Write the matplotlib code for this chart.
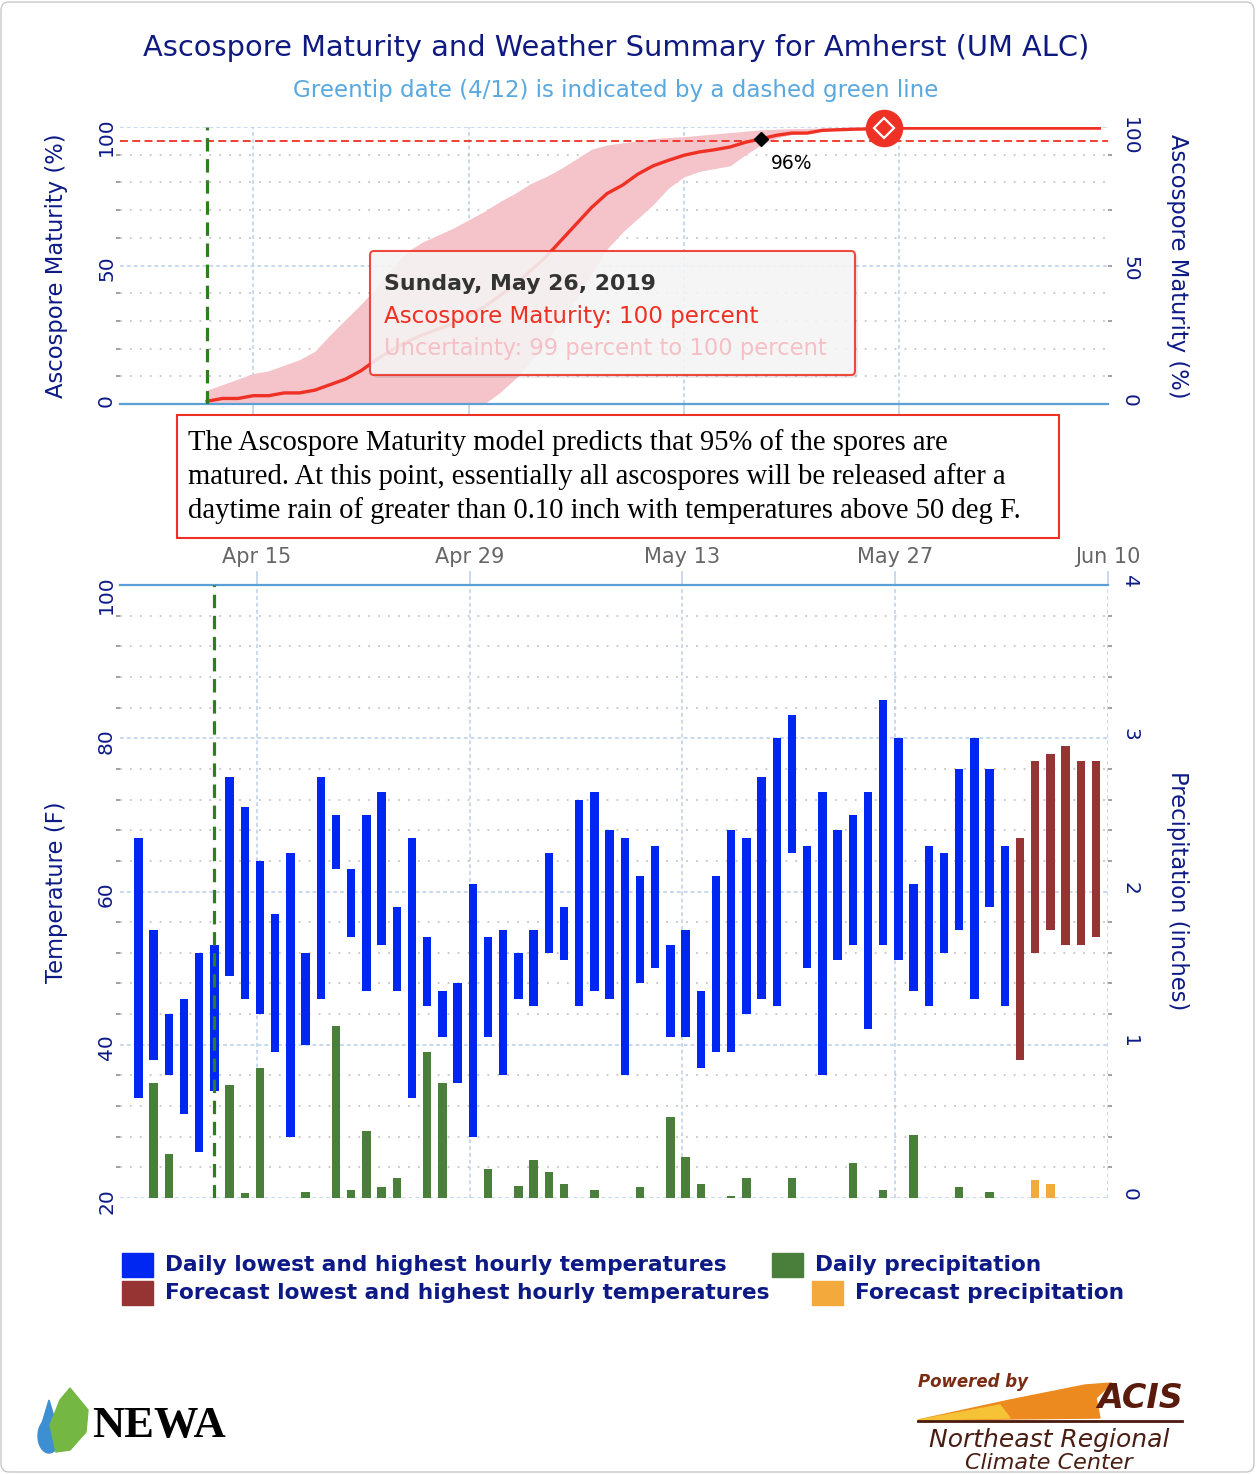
import numpy as np
import pandas as pd
import matplotlib
matplotlib.use("Agg")
import matplotlib.pyplot as plt
from matplotlib.ticker import MultipleLocator, NullFormatter
from matplotlib.transforms import blended_transform_factory, offset_copy
from matplotlib.patches import FancyBboxPatch, Rectangle, Polygon, Ellipse

W, H = 1256, 1474

# ascospore maturity model, daily from greentip (Apr 12) to Jun 9
mat_start = "2019-04-12"
maturity = [1, 2, 2, 3, 3, 4, 4, 5, 7, 9, 12, 16, 19.5, 22.5, 25, 27, 29, 32, 35,
            39, 43, 48, 53, 59, 65, 71, 76, 79, 83, 86, 88, 89.8, 91, 91.8, 92.8, 94.5,
            95.7, 97, 97.8, 97.8, 98.8, 99, 99.2, 99.3, 99.6, 99.6, 99.6, 99.6, 99.6,
            99.6, 99.6, 99.6, 99.6, 99.6, 99.6, 99.6, 99.6, 99.6, 99.6]
mat_upper = [5, 7, 9, 11, 12, 14, 16, 19, 25, 30.5, 36, 42, 49, 55, 58.5, 61, 63.5, 66.5, 69.5,
             73, 76, 79.5, 82, 85, 88.5, 92, 93.5, 94.3, 95, 95.8, 96.2, 96.5, 97, 97.5, 98,
             98.5, 99, 99.2, 99.4, 99.5, 99.6, 99.6, 99.6, 99.6, 99.6, 99.6, 99.6, 99.6,
             99.6, 99.6, 99.6, 99.6, 99.6, 99.6, 99.6, 99.6, 99.6, 99.6, 99.6]
mat_lower = [0, 0, 0, 0, 0, 0, 0, 0, 0, 0, 0, 0, 0, 0, 0, 0, 0, 0, 0,
             4, 9, 15, 22, 30, 38, 47, 56, 62, 67, 72, 78, 82, 84, 85, 86, 90,
             93.5, 96, 97.3, 97.8, 98.8, 99, 99.2, 99.3, 99.6, 99.6, 99.6, 99.6, 99.6,
             99.6, 99.6, 99.6, 99.6, 99.6, 99.6, 99.6, 99.6, 99.6, 99.6]
greentip = "2019-04-12"
threshold = 95
marker_95 = ("2019-05-18", 95.7, "96%")
hover_day = ("2019-05-26", 99.6)

# observed weather, daily Apr 7 - Jun 3
wx_start = "2019-04-07"
tmax = [67, 55, 44, 46, 52, 53, 75, 71, 64, 57, 65, 52, 75, 70, 63, 70, 73, 58, 67, 54,
        47, 48, 61, 54, 55, 52, 55, 65, 58, 72, 73, 68, 67, 62, 66, 53, 55, 47, 62, 68,
        67, 75, 80, 83, 66, 73, 68, 70, 73, 85, 80, 61, 66, 65, 76, 80, 76, 66]
tmin = [33, 38, 36, 31, 26, 34, 49, 46, 44, 39, 28, 40, 46, 63, 54, 47, 53, 47, 33, 45,
        41, 35, 28, 41, 36, 46, 45, 52, 51, 45, 47, 46, 36, 48, 50, 41, 41, 37, 39, 39,
        44, 46, 45, 65, 50, 36, 51, 53, 42, 53, 51, 47, 45, 52, 55, 46, 58, 45]
precip = [0, 0.75, 0.29, 0, 0, 0, 0.74, 0.03, 0.85, 0, 0, 0.04, 0, 1.12, 0.05, 0.44,
          0.07, 0.13, 0, 0.95, 0.75, 0, 0, 0.19, 0, 0.08, 0.25, 0.17, 0.09, 0, 0.05, 0,
          0, 0.07, 0, 0.53, 0.27, 0.09, 0, 0.01, 0.13, 0, 0, 0.13, 0, 0, 0, 0.23, 0,
          0.05, 0, 0.41, 0, 0, 0.07, 0, 0.04, 0]

# forecast, Jun 4 - Jun 9
fc_start = "2019-06-04"
fc_tmax = [67, 77, 78, 79, 77, 77]
fc_tmin = [38, 52, 55, 53, 53, 54]
fc_precip = [0, 0.12, 0.09, 0, 0, 0]

tick_dates = ["2019-04-15", "2019-04-29", "2019-05-13", "2019-05-27", "2019-06-10"]
tick_labels = ["Apr 15", "Apr 29", "May 13", "May 27", "Jun 10"]

navy = "#0d1a86"
red = "#ee3124"
gridc = "#b9cee9"
axisc = "#5b9fd6"

plt.rcParams["font.family"] = ["DejaVu Sans"]

fig = plt.figure(figsize=(W / 100, H / 100), dpi=100)


def box(l, t, r, b):
    return [l / W, 1 - b / H, (r - l) / W, (b - t) / H]


def fx(x):
    return x / W


def fy(y):
    return 1 - y / H


def base_style(ax, minor):
    for s in ax.spines.values():
        s.set_visible(False)
    ax.set_axisbelow(True)
    ax.yaxis.set_minor_locator(MultipleLocator(minor))
    ax.grid(True, which="major", color=gridc, lw=1.1, ls=(0, (2.5, 2)))
    ax.grid(True, which="minor", axis="y", color="#c6c6c6", lw=1.3, ls=(0, (1, 4.5)))
    ax.tick_params(axis="y", which="major", length=0, labelleft=False, labelright=False)
    ax.tick_params(axis="y", which="minor", length=3, width=1.3, color="#9a9a9a")


def ylabels(ax, values, side, size=14.5):
    tr = blended_transform_factory(ax.transAxes, ax.transData)
    if side == "left":
        tr = offset_copy(tr, fig=fig, x=-4, y=10, units="dots")
        for v in values:
            ax.text(0, v, f"{v:g}", transform=tr, rotation=90, ha="right", va="top",
                    color=navy, fontsize=size)
    else:
        tr = offset_copy(tr, fig=fig, x=12, y=10, units="dots")
        for v in values:
            ax.text(1, v, f"{v:g}", transform=tr, rotation=270, ha="left", va="top",
                    color=navy, fontsize=size)


# ---------------- top chart: ascospore maturity ----------------
mat_dates = pd.date_range(mat_start, periods=len(maturity))
ax1 = fig.add_axes(box(120, 127, 1108, 404))
ax1.set_xlim(pd.Timestamp("2019-04-06 08:00"), pd.Timestamp("2019-06-09 13:30"))
ax1.set_ylim(0, 100)
base_style(ax1, 10)
ax1.set_yticks([0, 50, 100])
ax1.set_xticks(pd.to_datetime(tick_dates[:4]))
ax1.xaxis.set_major_formatter(NullFormatter())
ax1.tick_params(axis="x", length=9, width=1.1, color=gridc)
ax1.spines["bottom"].set_visible(True)
ax1.spines["bottom"].set_color(axisc)
ax1.spines["bottom"].set_linewidth(1.6)

ax1.fill_between(mat_dates, mat_lower, mat_upper, color="#f5c3ca", lw=0, zorder=2)
ax1.plot(mat_dates, maturity, color=red, lw=2.4, zorder=3)
ax1.axhline(threshold, color=red, lw=1.3, ls=(0, (4.4, 2.4)), zorder=3)
ax1.axvline(pd.Timestamp(greentip), color="#2f7d1f", lw=2.3, ls=(0, (4.2, 2.4)), zorder=3)

md, mv, mtxt = marker_95
ax1.plot(pd.Timestamp(md), mv, marker="D", ms=7.5, color="black", zorder=5)
ax1.annotate(mtxt, xy=(pd.Timestamp(md), mv), xytext=(22, -18), textcoords="offset points",
             ha="center", va="center", fontsize=13.5, color="black")
hd, hv = hover_day
ax1.plot(pd.Timestamp(hd), hv, marker="o", ms=26, color=red, zorder=6, clip_on=False)
ax1.plot(pd.Timestamp(hd), hv, marker="D", ms=10, mfc=red, mec="white", mew=1.6,
         zorder=7, clip_on=False)

ax1r = ax1.twinx()
ax1r.set_ylim(0, 100)
for s in ax1r.spines.values():
    s.set_visible(False)
ax1r.yaxis.set_minor_locator(MultipleLocator(10))
ax1r.tick_params(axis="y", which="major", length=0, labelright=False)
ax1r.tick_params(axis="y", which="minor", length=3, width=1.3, color="#9a9a9a")
ylabels(ax1, [0, 50, 100], "left")
ylabels(ax1, [0, 50, 100], "right")

fig.text(fx(57), fy(266), "Ascospore Maturity (%)", rotation=90, ha="center", va="center",
         color=navy, fontsize=16.3)
fig.text(fx(1178), fy(266), "Ascospore Maturity (%)", rotation=270, ha="center", va="center",
         color=navy, fontsize=16.3)

# ---------------- bottom chart: temperature and precipitation ----------------
shift = pd.Timedelta(hours=5)
wx_dates = pd.date_range(wx_start, periods=len(tmax)) + shift
fc_dates = pd.date_range(fc_start, periods=len(fc_tmax)) + shift

axb = fig.add_axes(box(120, 585, 1108, 1198))
axb.set_xlim(pd.Timestamp("2019-04-06"), pd.Timestamp("2019-06-10"))
axb.set_ylim(20, 100)
base_style(axb, 4)
axb.set_yticks([20, 40, 60, 80, 100])
axb.set_xticks(pd.to_datetime(tick_dates))
axb.set_xticklabels(tick_labels)
axb.xaxis.tick_top()
axb.tick_params(axis="x", length=10, width=1.1, color=gridc, labelcolor="#666666",
                labelsize=15, pad=3)
axb.spines["top"].set_visible(True)
axb.spines["top"].set_color(axisc)
axb.spines["top"].set_linewidth(1.6)

bw = 0.55
axb.bar(wx_dates, np.array(tmax) - np.array(tmin), bottom=tmin, width=bw, color="#0026f2",
        zorder=2)
axb.bar(fc_dates, np.array(fc_tmax) - np.array(fc_tmin), bottom=fc_tmin, width=bw,
        color="#963333", zorder=2)
axb.axvline(pd.Timestamp(greentip) + shift, color="#2f7d1f", lw=2.3, ls=(0, (4.2, 2.4)),
            zorder=3)

axp = axb.twinx()
axp.set_ylim(0, 4)
for s in axp.spines.values():
    s.set_visible(False)
axp.yaxis.set_minor_locator(MultipleLocator(0.2))
axp.tick_params(axis="y", which="major", length=0, labelright=False)
axp.tick_params(axis="y", which="minor", length=3, width=1.3, color="#9a9a9a")
axp.bar(wx_dates, precip, width=bw, color="#4a7f3b", zorder=2)
axp.bar(fc_dates, fc_precip, width=bw, color="#f4a93d", zorder=2)

ylabels(axb, [20, 40, 60, 80, 100], "left")
ylabels(axp, [0, 1, 2, 3, 4], "right")
fig.text(fx(57), fy(892), "Temperature (F)", rotation=90, ha="center", va="center",
         color=navy, fontsize=16.3)
fig.text(fx(1178), fy(891), "Precipitation (inches)", rotation=270, ha="center",
         va="center", color=navy, fontsize=16.3)

# ---------------- titles ----------------
fig.text(fx(616), fy(48), "Ascospore Maturity and Weather Summary for Amherst (UM ALC)",
         ha="center", va="center", color="#0f1a80", fontsize=20.8)
fig.text(fx(616), fy(91), "Greentip date (4/12) is indicated by a dashed green line",
         ha="center", va="center", color="#5aa8e0", fontsize=16.6)

# ---------------- tooltip ----------------
fig.patches.append(FancyBboxPatch((fx(373), fy(378)), fx(485), 124 / H,
                                  boxstyle="round,pad=0,rounding_size=0.003",
                                  transform=fig.transFigure, fc="#000000", alpha=0.08,
                                  lw=0, zorder=5))
fig.patches.append(FancyBboxPatch((fx(370), fy(375)), fx(485), 124 / H,
                                  boxstyle="round,pad=0,rounding_size=0.003",
                                  transform=fig.transFigure, fc="#f7f7f7", alpha=0.88,
                                  ec=red, lw=1.5, zorder=6))
fig.text(fx(384), fy(284), "Sunday, May 26, 2019", ha="left", va="center", color="#333333",
         fontsize=15.8, fontweight="bold", zorder=7)
fig.text(fx(384), fy(316), "Ascospore Maturity: 100 percent", ha="left", va="center",
         color=red, fontsize=16.6, zorder=7)
fig.text(fx(384), fy(348), "Uncertainty: 99 percent to 100 percent", ha="left", va="center",
         color="#f6bfc6", fontsize=16.3, zorder=7)

# ---------------- message box ----------------
fig.patches.append(Rectangle((fx(177), fy(538)), fx(882), 123 / H, transform=fig.transFigure,
                             fc="white", ec=red, lw=1.5, zorder=5))
msg = ["The Ascospore Maturity model predicts that 95% of the spores are",
       "matured. At this point, essentially all ascospores will be released after a",
       "daytime rain of greater than 0.10 inch with temperatures above 50 deg F."]
for i, line in enumerate(msg):
    fig.text(fx(188), fy(443 + 34 * i), line, ha="left", va="center", color="black",
             fontsize=20.6, family="Liberation Serif", zorder=6)

# ---------------- legend ----------------
legend_items = [
    (122, 1265, "#0026f2", "Daily lowest and highest hourly temperatures"),
    (772, 1265, "#4a7f3b", "Daily precipitation"),
    (122, 1293, "#963333", "Forecast lowest and highest hourly temperatures"),
    (812, 1293, "#f4a93d", "Forecast precipitation"),
]
for x0, yc, col, lab in legend_items:
    fig.patches.append(Rectangle((fx(x0), fy(yc + 12)), 31 / W, 24 / H,
                                 transform=fig.transFigure, color=col))
    fig.text(fx(x0 + 43), fy(yc), lab, ha="left", va="center", color=navy, fontsize=15.6,
             fontweight="bold")

# ---------------- logos ----------------
fig.patches.append(Ellipse((fx(49), fy(1436)), 22 / W, 34 / H, transform=fig.transFigure,
                           color="#3d8fd1"))
fig.patches.append(Polygon([(fx(40), fy(1430)), (fx(49), fy(1400)), (fx(58), fy(1430))],
                           closed=True, transform=fig.transFigure, color="#3d8fd1"))
fig.patches.append(Polygon([(fx(56), fy(1452)), (fx(50), fy(1425)), (fx(60), fy(1400)),
                            (fx(70), fy(1388)), (fx(88), fy(1410)), (fx(86), fy(1432)),
                            (fx(70), fy(1450))],
                           closed=True, transform=fig.transFigure, color="#74b843"))
fig.text(fx(92), fy(1426), "NEWA", ha="left", va="center", color="black", fontsize=32,
         fontweight="bold", family="Liberation Serif")

fig.text(fx(918), fy(1382), "Powered by", ha="left", va="center", color="#7a2c14",
         fontsize=12, fontweight="bold", style="italic")
fig.patches.append(Polygon([(fx(918), fy(1420)), (fx(1010), fy(1400)), (fx(1085), fy(1385)),
                            (fx(1112), fy(1383)), (fx(1096), fy(1398)), (fx(1100), fy(1418))],
                           closed=True, transform=fig.transFigure, color="#ec8a1f"))
fig.patches.append(Polygon([(fx(918), fy(1420)), (fx(1000), fy(1405)), (fx(1010), fy(1418))],
                           closed=True, transform=fig.transFigure, color="#f6c236"))
fig.text(fx(1140), fy(1399), "ACIS", ha="center", va="center", color="#5a1a0c",
         fontsize=24, fontweight="bold", style="italic")
fig.lines.append(plt.Line2D([fx(918), fx(1182)], [fy(1421), fy(1421)],
                            transform=fig.transFigure, color="#4a1a0c", lw=2))
fig.text(fx(1049), fy(1440), "Northeast Regional", ha="center", va="center", color="#4a1d12",
         fontsize=18, style="italic")
fig.text(fx(1049), fy(1463), "Climate Center", ha="center", va="center", color="#4a1d12",
         fontsize=16, style="italic")

fig.patches.append(FancyBboxPatch((fx(1), fy(1472)), fx(1253), 1470 / H,
                                  boxstyle="round,pad=0,rounding_size=0.006",
                                  transform=fig.transFigure, fc="none", ec="#c8c8c8", lw=1))

fig.savefig("out.png", dpi=100)
